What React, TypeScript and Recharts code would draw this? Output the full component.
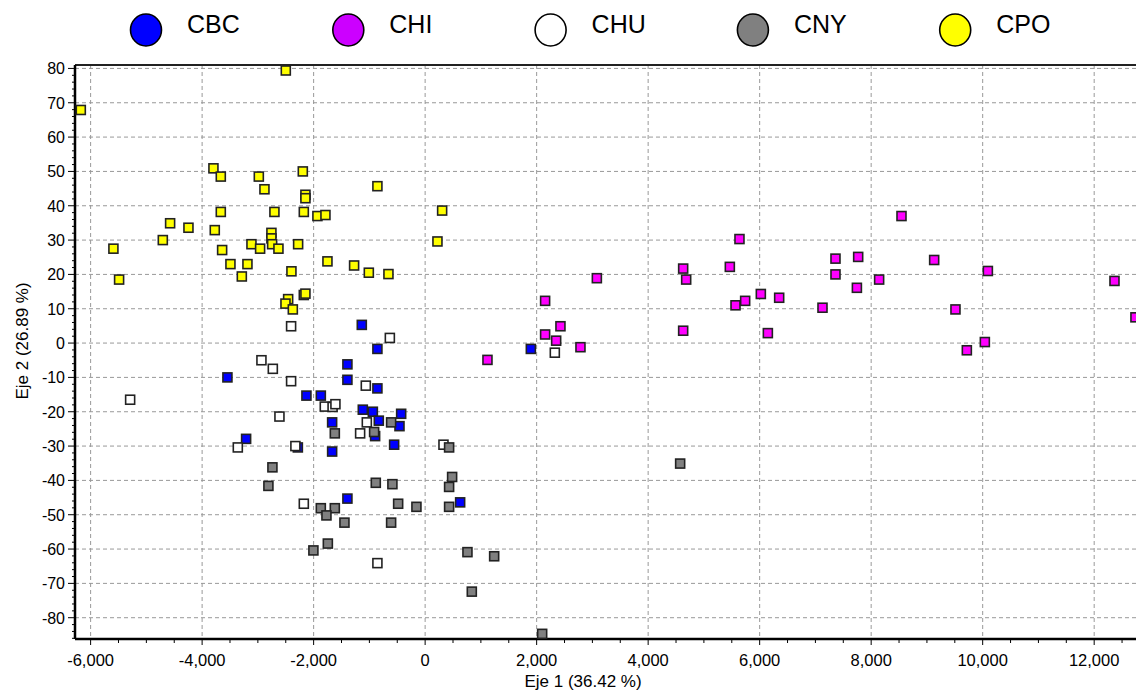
import React from 'react';
import { ScatterChart, Scatter, XAxis, YAxis, CartesianGrid } from 'recharts';

const seriesNames = ['CBC', 'CHI', 'CHU', 'CNY', 'CPO'];
const seriesFill = ['#0000FF', '#FF00FF', '#FFFFFF', '#808080', '#FFFF00'];
const legendFill = ['#0000FF', '#CC00FF', '#FFFFFF', '#808080', '#FFFF00'];

const CBC: [number, number][] = [
  [-1136, 5.3], [-856, -1.7], [-1394, -6.2], [-1394, -10.7], [-3546, -10.0], [-856, -13.2],
  [-2129, -15.3], [-1871, -15.3], [-1118, -19.4], [-938, -20.0], [-831, -22.6], [-430, -20.6],
  [-460, -24.2], [-1668, -23.1], [-897, -27.1], [-556, -29.6], [-3211, -27.9], [-2283, -30.4],
  [-1668, -31.6], [-1394, -45.3], [628, -46.4], [1896, -1.7],
];

const CHI: [number, number][] = [
  [1118, -4.9], [2152, 12.3], [2152, 2.5], [2427, 4.9], [2350, 0.7], [2786, -1.2], [3080, 18.9],
  [4628, 21.7], [4682, 18.5], [4628, 3.6], [5638, 30.3], [5465, 22.2], [5567, 11.0], [5740, 12.3],
  [6021, 14.3], [6147, 2.9], [6350, 13.2], [7127, 10.3], [7360, 24.6], [7360, 20.0], [7767, 25.1],
  [7744, 16.1], [8143, 18.5], [8544, 37.0], [9130, 24.2], [9512, 9.8], [9716, -2.1], [10039, 0.3],
  [10093, 21.0], [12364, 18.1], [12740, 7.5],
];

const CHU: [number, number][] = [
  [-2404, 4.9], [-633, 1.5], [-2936, -5.0], [-2732, -7.5], [-2404, -11.1], [-5291, -16.5],
  [-1064, -12.4], [-1800, -18.5], [-1660, -18.6], [-1609, -17.8], [-2613, -21.4], [-1046, -23.1],
  [-1166, -26.3], [-3360, -30.4], [-2327, -30.0], [329, -29.6], [-2176, -46.8], [-856, -64.1],
  [2326, -2.8],
];

const CNY: [number, number][] = [
  [-1620, -26.3], [-915, -25.9], [-610, -23.1], [430, -30.4], [-2739, -36.2], [-2811, -41.6],
  [-885, -40.7], [-587, -41.1], [484, -39.0], [430, -41.9], [-484, -46.8], [-156, -47.7],
  [430, -47.7], [-1871, -48.1], [-1620, -48.1], [-1770, -50.2], [-1447, -52.3], [-610, -52.3],
  [-2004, -60.4], [-1745, -58.4], [759, -60.9], [1238, -62.1], [837, -72.4], [2099, -84.7],
  [4574, -35.1],
];

const CPO: [number, number][] = [
  [-2499, 79.4], [-6176, 67.9], [-3797, 50.9], [-3665, 48.5], [-2983, 48.5], [-2194, 50.0],
  [-2882, 44.8], [-2147, 43.2], [-2147, 42.2], [-856, 45.7], [-3665, 38.2], [-2703, 38.2],
  [-2176, 38.2], [-1932, 37.0], [-1788, 37.3], [305, 38.6], [-4574, 34.9], [-4245, 33.6],
  [-3773, 32.9], [-4705, 30.0], [-5591, 27.5], [-3641, 27.1], [-2757, 32.1], [-2757, 30.5],
  [-2744, 28.8], [-3115, 28.8], [-2960, 27.5], [-2631, 27.5], [-2278, 28.8], [221, 29.6],
  [-5489, 18.5], [-3492, 23.0], [-3187, 23.0], [-3288, 19.4], [-2398, 20.9], [-1752, 23.8],
  [-1274, 22.6], [-1010, 20.5], [-658, 20.1], [-2457, 12.8], [-2505, 11.5], [-2373, 9.8],
  [-2176, 14.0], [-2147, 14.4],
];

const allSeries = [CBC, CHI, CHU, CNY, CPO];

const xMajorTicks = [-6000, -4000, -2000, 0, 2000, 4000, 6000, 8000, 10000, 12000];
const xAllTicks: number[] = [];
for (let v = -6000; v <= 12500; v += 500) xAllTicks.push(v);
const yTicks = [80, 70, 60, 50, 40, 30, 20, 10, 0, -10, -20, -30, -40, -50, -60, -70, -80];
const yAllTicks: number[] = [];
for (let v = -86; v <= 80; v += 2) yAllTicks.push(v);

const FONT = 'Liberation Sans, Arial, sans-serif';

const SquareShape = (props: any) => {
  const { cx, cy, fill } = props;
  if (cx == null || cy == null) return null;
  return <rect x={cx - 4.5} y={cy - 4.5} width={9} height={9} fill={fill} stroke="#222" strokeWidth={1.6} />;
};

const XTick = (props: any) => {
  const { x, y, payload } = props;
  const v = payload.value;
  const major = v % 2000 === 0;
  return (
    <g>
      <line x1={x} y1={y} x2={x} y2={y + (major ? 6 : 4)} stroke="#000" strokeWidth={1} />
      {major && (
        <text x={x} y={y + 27} textAnchor="middle" fontFamily={FONT} fontSize={16.5} fill="#000">
          {v.toLocaleString('en-US')}
        </text>
      )}
    </g>
  );
};

const YTick = (props: any) => {
  const { x, y, payload } = props;
  const v = payload.value;
  const major = v % 10 === 0;
  return (
    <g>
      <line x1={x} y1={y} x2={x - (major ? 7 : 3)} y2={y} stroke="#000" strokeWidth={1} />
      {major && (
        <text x={x - 10} y={y + 6} textAnchor="end" fontFamily={FONT} fontSize={16} fill="#000">
          {v}
        </text>
      )}
    </g>
  );
};

const LegendBlock = () => (
  <svg width={1136} height={60} style={{ position: 'absolute', left: 0, top: 0, zIndex: 2 }}>
    {seriesNames.map((n, i) => {
      const cx = 146 + i * 202.3;
      return (
        <g key={n}>
          <ellipse cx={cx} cy={30} rx={15.5} ry={16} fill={legendFill[i]} stroke="#000" strokeWidth={1.6} />
          <text x={cx + 41} y={33} fontFamily={FONT} fontSize={25} fill="#000">{n}</text>
        </g>
      );
    })}
  </svg>
);

export default function App() {
  return (
    <div style={{ position: 'absolute', left: 0, top: 0, width: 1136, height: 692, background: '#fff' }}>
      <LegendBlock />
      <ScatterChart width={1136} height={692} margin={{ top: 64, right: 0, bottom: 0, left: 35 }}>
        <CartesianGrid stroke="#999" strokeDasharray="4 3" verticalValues={xMajorTicks} horizontalValues={yTicks} />
        <XAxis
          type="number"
          dataKey="x"
          domain={[-6280, 12750]}
          ticks={xAllTicks}
          interval={0}
          allowDataOverflow
          height={53}
          tickSize={0}
          tickMargin={0}
          tickLine={false}
          tick={<XTick />}
          axisLine={{ stroke: '#000', strokeWidth: 2.5 }}
          label={(p: any) => (
            <text x={583} y={687} textAnchor="middle" fontFamily={FONT} fontSize={17} fill="#000">Eje 1 (36.42 %)</text>
          )}
        />
        <XAxis
          xAxisId="top"
          orientation="top"
          type="number"
          domain={[-6280, 12750]}
          ticks={xMajorTicks}
          height={1}
          tickLine={false}
          tick={() => null}
          axisLine={{ stroke: '#222', strokeWidth: 2 }}
        />
        <YAxis
          type="number"
          dataKey="y"
          domain={[-86.2, 81]}
          ticks={yAllTicks}
          interval={0}
          allowDataOverflow
          width={40}
          tickSize={0}
          tickMargin={0}
          tickLine={false}
          tick={<YTick />}
          axisLine={{ stroke: '#000', strokeWidth: 2.5 }}
          label={(p: any) => (
            <text x={28} y={341} transform="rotate(-90 28 341)" textAnchor="middle" fontFamily={FONT} fontSize={17} fill="#000">Eje 2 (26.89 %)</text>
          )}
        />
        {allSeries.map((s, i) => (
          <Scatter
            key={seriesNames[i]}
            name={seriesNames[i]}
            data={s.map(([x, y]) => ({ x, y }))}
            fill={seriesFill[i]}
            shape={<SquareShape />}
            isAnimationActive={false}
          />
        ))}
      </ScatterChart>
    </div>
  );
}
